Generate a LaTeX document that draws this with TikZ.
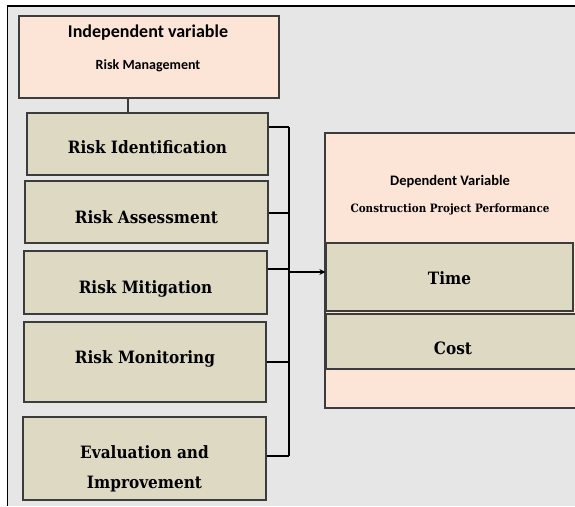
\documentclass[tikz,border=0pt]{standalone}
\usepackage{fontspec}
\setmainfont{Carlito}
\newfontfamily\slabfont{DejaVu Serif Condensed}
\usetikzlibrary{arrows.meta}
\definecolor{peach}{HTML}{FCE4D6}
\definecolor{tan}{HTML}{DDD9C3}
\definecolor{bg}{HTML}{E6E6E6}
\definecolor{edge}{HTML}{3C3C3C}
\tikzset{
  riskbox/.style={draw=edge, line width=1.2pt, fill=tan, inner sep=0pt, align=center,
    text depth=0pt, font=\slabfont\bfseries\fontsize{17}{30}\selectfont},
  varbox/.style={draw=edge, line width=1.2pt, fill=peach, inner sep=0pt},
  link/.style={line width=1.3pt, black},
  bus/.style={line width=2.4pt, black}
}
\begin{document}
\begin{tikzpicture}[x=1pt,y=-1pt]
\useasboundingbox (0,0) rectangle (575,506);
\fill[bg] (7,6) rectangle (575,506);
\draw[line width=2pt] (575,6) -- (7,6);
\draw[line width=1pt] (7,6) -- (7,506);

\node[varbox, minimum width=260pt, minimum height=82pt] (iv) at (149,57) {};
\node[font=\bfseries\fontsize{18}{21}\selectfont] (ivt) at (148,33) {Independent variable};
\node[font=\bfseries\fontsize{14}{16}\selectfont] (ivs) at (148,66) {Risk Management};

\node[riskbox, text height=18.4pt, minimum width=241pt, minimum height=62pt] (ri) at (147.5,144) {Risk Identification};
\node[riskbox, text height=22.4pt, minimum width=243pt, minimum height=62pt] (ra) at (146.5,212) {Risk Assessment};
\node[riskbox, text height=21.4pt, minimum width=243pt, minimum height=63pt] (rm) at (145.5,282.5) {Risk Mitigation};
\node[riskbox, text height=2.4pt, minimum width=242pt, minimum height=80pt] (ro) at (145,362) {Risk Monitoring};
\node[riskbox, text height=59.4pt, minimum width=243pt, minimum height=83pt] (ev) at (144.5,458.5) {Evaluation and\\Improvement};

\draw[line width=1.2pt, edge] (iv.south -| 128,0) -- (ri.north -| 128,0);

\node[varbox, minimum width=255pt, minimum height=275pt] (dv) at (452.5,270.5) {};
\node[font=\bfseries\fontsize{14.5}{17}\selectfont] (dvt) at (450,182) {Dependent Variable};
\node[font=\slabfont\bfseries\fontsize{11.5}{14}\selectfont] (dvs) at (450,209) {Construction Project Performance};
\node[riskbox, text height=14.4pt, minimum width=247pt, minimum height=68pt] (tm) at (449.5,277) {Time};
\node[riskbox, text height=25.4pt, minimum width=254pt, minimum height=55pt] (cs) at (453,341.5) {Cost};

\coordinate (bt) at (289,127);
\coordinate (bb) at (289,456);
\coordinate (jt) at (289,272);
\draw[bus] (bt) -- (bb);
\draw[link] ([yshift=17pt]ri.east) -- ([yshift=17pt]ri.east -| bt);
\draw[link] ([yshift=-1pt]ra.east) -- ([yshift=-1pt]ra.east -| bt);
\draw[link] ([yshift=13.5pt]rm.east) -- ([yshift=13.5pt]rm.east -| bt);
\draw[link] (ro.east) -- (ro.east -| bt);
\draw[link] ([yshift=2.5pt]ev.east) -- ([yshift=2.5pt]ev.east -| bt);
\draw[line width=2.4pt, -{Stealth[length=6pt,width=6pt]}] (jt) -- (jt -| tm.west);
\end{tikzpicture}
\end{document}
